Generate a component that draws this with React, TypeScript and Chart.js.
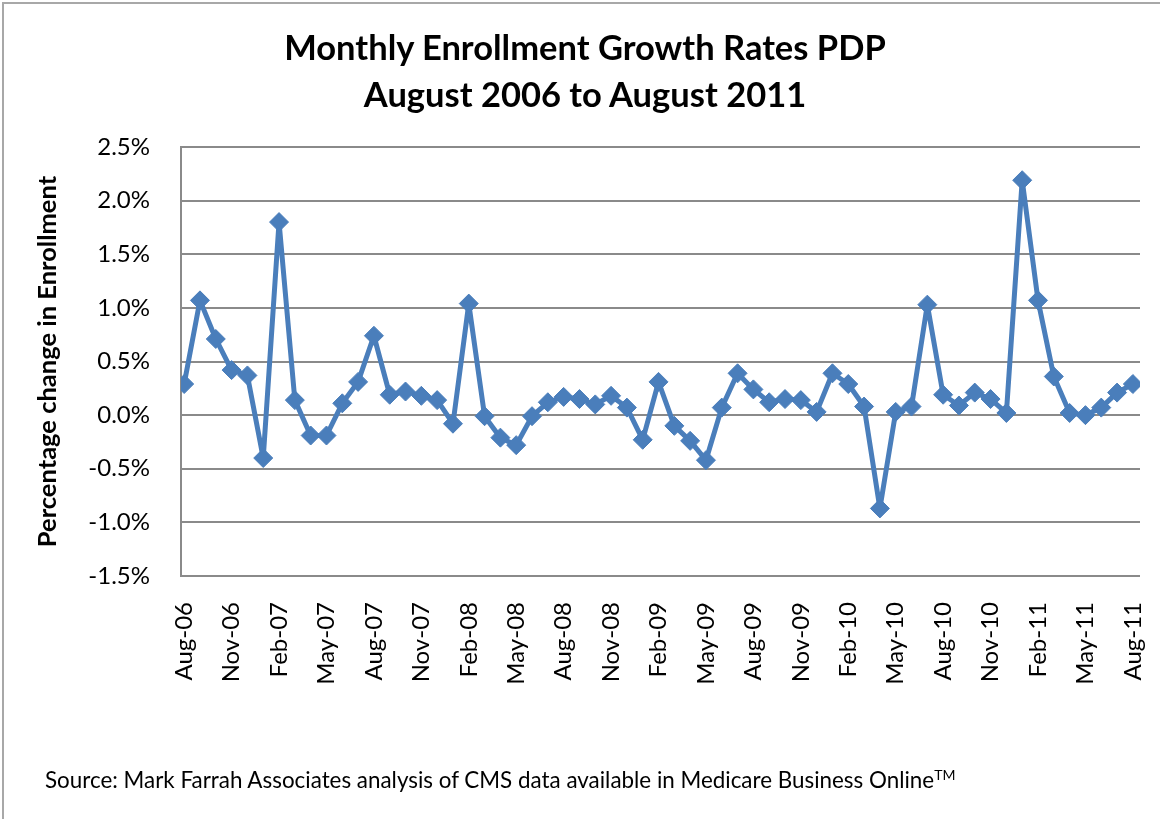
import React, { useEffect, useRef } from "react";
import { Chart, registerables } from "chart.js";

Chart.register(...registerables);

const titleLines = ["Monthly Enrollment Growth Rates PDP", "August 2006 to August 2011"];
const yAxisTitle = "Percentage change in Enrollment";
const sourceNote = "Source: Mark Farrah Associates analysis of CMS data available in Medicare Business Online";

const months = [
  "Aug-06", "Sep-06", "Oct-06", "Nov-06", "Dec-06",
  "Jan-07", "Feb-07", "Mar-07", "Apr-07", "May-07", "Jun-07", "Jul-07", "Aug-07", "Sep-07", "Oct-07", "Nov-07", "Dec-07",
  "Jan-08", "Feb-08", "Mar-08", "Apr-08", "May-08", "Jun-08", "Jul-08", "Aug-08", "Sep-08", "Oct-08", "Nov-08", "Dec-08",
  "Jan-09", "Feb-09", "Mar-09", "Apr-09", "May-09", "Jun-09", "Jul-09", "Aug-09", "Sep-09", "Oct-09", "Nov-09", "Dec-09",
  "Jan-10", "Feb-10", "Mar-10", "Apr-10", "May-10", "Jun-10", "Jul-10", "Aug-10", "Sep-10", "Oct-10", "Nov-10", "Dec-10",
  "Jan-11", "Feb-11", "Mar-11", "Apr-11", "May-11", "Jun-11", "Jul-11", "Aug-11",
];

// Monthly growth rate, in percent
const growthRates = [
  0.29, 1.07, 0.71, 0.42, 0.37,
  -0.40, 1.80, 0.14, -0.19, -0.19, 0.11, 0.31, 0.74, 0.19, 0.22, 0.18, 0.14,
  -0.08, 1.04, -0.01, -0.21, -0.28, -0.01, 0.12, 0.17, 0.15, 0.10, 0.18, 0.07,
  -0.23, 0.31, -0.10, -0.24, -0.42, 0.07, 0.39, 0.24, 0.12, 0.15, 0.14, 0.03,
  0.39, 0.29, 0.08, -0.87, 0.03, 0.08, 1.03, 0.19, 0.09, 0.21, 0.15, 0.02,
  2.19, 1.07, 0.36, 0.02, 0.00, 0.07, 0.21, 0.29,
];

// Months that carry a tick label (every third month)
const labelledMonths = [
  "Aug-06", "Nov-06", "Feb-07", "May-07", "Aug-07", "Nov-07", "Feb-08", "May-08", "Aug-08", "Nov-08", "Feb-09",
  "May-09", "Aug-09", "Nov-09", "Feb-10", "May-10", "Aug-10", "Nov-10", "Feb-11", "May-11", "Aug-11",
];

const yMin = -1.5;
const yMax = 2.5;
const yStep = 0.5;

const LINE_BLUE = "#4A7EBB";
const GRID_GREY = "#8A8A8A";

export default function App() {
  const canvasRef = useRef<HTMLCanvasElement | null>(null);

  useEffect(() => {
    document.body.style.margin = "0";
    const canvas = canvasRef.current;
    if (!canvas) return;

    const points = growthRates.map((v, i) => ({ x: i, y: v }));
    const tickIdx = labelledMonths.map((m) => months.indexOf(m));

    const chart = new Chart(canvas, {
      type: "line",
      data: {
        datasets: [
          {
            label: "Monthly growth",
            data: points,
            borderColor: LINE_BLUE,
            backgroundColor: LINE_BLUE,
            borderWidth: 5,
            borderJoinStyle: "round",
            pointStyle: "rectRot",
            pointRadius: 9.5,
            pointBorderWidth: 1,
            pointBackgroundColor: LINE_BLUE,
            pointBorderColor: LINE_BLUE,
            tension: 0,
          },
        ],
      },
      options: {
        animation: false,
        responsive: false,
        maintainAspectRatio: false,
        layout: { padding: { left: 0, right: 20, top: 147, bottom: 103 } },
        plugins: {
          legend: { display: false },
          title: { display: false },
          tooltip: { enabled: false },
        },
        scales: {
          x: {
            type: "linear",
            min: -0.2,
            max: 60.45,
            grid: { display: false, drawTicks: false },
            border: { display: false },
            afterBuildTicks: (scale: any) => {
              scale.ticks = tickIdx.map((v) => ({ value: v }));
            },
            afterFit: (scale: any) => {
              scale.height = 140;
              scale.paddingLeft = 0;
              scale.paddingRight = 0;
            },
            ticks: {
              autoSkip: false,
              minRotation: 90,
              maxRotation: 90,
              padding: 26,
              color: "#000",
              font: { family: "Lato", size: 24 },
              callback: (value: any) => {
                const i = Number(value);
                return Number.isInteger(i) && months[i] ? months[i] : "";
              },
            },
          },
          y: {
            type: "linear",
            min: yMin,
            max: yMax,
            afterFit: (scale: any) => {
              scale.width = 181;
            },
            grid: { color: GRID_GREY, lineWidth: 2, drawTicks: false },
            border: { display: true, color: GRID_GREY, width: 2 },
            title: {
              display: true,
              text: yAxisTitle,
              color: "#000",
              font: { family: "Lato", size: 25.5, weight: "bold" },
              padding: { top: 32, bottom: 0 },
            },
            ticks: {
              stepSize: yStep,
              padding: 31,
              color: "#000",
              font: { family: "Lato", size: 24 },
              callback: (value: any) => Number(value).toFixed(1) + "%",
            },
          },
        },
      },
    });

    return () => chart.destroy();
  }, []);

  return (
    <div style={{ position: "relative", width: 1160, height: 819, background: "#fff", overflow: "hidden" }}>
      <div
        style={{
          position: "absolute",
          left: 2,
          top: 2,
          width: 1170,
          height: 830,
          borderTop: "2px solid #A8A8A8",
          borderLeft: "2px solid #A8A8A8",
          boxSizing: "border-box",
        }}
      />
      <canvas ref={canvasRef} width={1160} height={819} style={{ position: "absolute", left: 0, top: 0 }} />
      <div
        style={{
          position: "absolute",
          left: 235,
          width: 700,
          top: 23,
          textAlign: "center",
          fontFamily: "Lato",
          fontWeight: "bold",
          fontSize: 34.5,
          lineHeight: "47px",
          color: "#000",
        }}
      >
        {titleLines.map((t) => (
          <div key={t} style={{ whiteSpace: "nowrap" }}>{t}</div>
        ))}
      </div>
      <div
        style={{
          position: "absolute",
          left: 45,
          top: 762,
          fontFamily: "Lato",
          fontSize: 22.4,
          lineHeight: "26px",
          color: "#000",
          whiteSpace: "nowrap",
        }}
      >
        {sourceNote}
        <sup style={{ fontSize: 14 }}>TM</sup>
      </div>
    </div>
  );
}
